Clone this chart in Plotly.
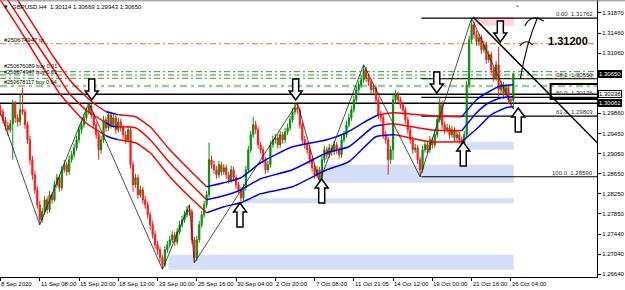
import plotly.graph_objects as go

# ---------------- data ----------------
x_tick_bars = [0, 16, 32, 48, 64, 80, 96, 112, 128, 144, 160, 176, 192, 208]
x_tick_labels = ["8 Sep 2020", "11 Sep 08:00", "15 Sep 20:00", "18 Sep 12:00", "23 Sep 00:00",
                 "25 Sep 16:00", "30 Sep 04:00", "2 Oct 20:00", "7 Oct 08:00", "11 Oct 21:05",
                 "14 Oct 12:00", "19 Oct 00:00", "21 Oct 16:00", "26 Oct 04:00"]
y_tick_vals = [1.31870, 1.31460, 1.31060, 1.29860, 1.29450, 1.29050, 1.28650,
               1.28250, 1.27850, 1.27440, 1.27040, 1.26640]

closes = [
1.2989,1.2973,1.2961,1.2953,1.2965,1.3005,1.2977,1.2969,1.2993,1.2989,
1.2963,1.2933,1.2893,1.2863,1.2833,1.2803,1.2773,1.2789,1.2813,1.2793,
1.2823,1.2813,1.2843,1.2857,1.2837,1.2873,1.2883,1.2869,1.2893,1.2903,
1.2917,1.2933,1.2953,1.2963,1.2977,1.2989,1.3001,1.2983,1.2963,1.2943,
1.2913,1.2933,1.2973,1.2957,1.2983,1.2963,1.2977,1.2953,1.2969,1.2957,
1.2943,1.2933,1.2953,1.2883,1.2843,1.2857,1.2823,1.2833,1.2813,1.2803,
1.2783,1.2763,1.2743,1.2723,1.2713,1.2697,1.2683,1.2713,1.2723,1.2733,
1.2743,1.2729,1.2749,1.2763,1.2773,1.2783,1.2793,1.2789,1.2733,1.2697,
1.2733,1.2763,1.2783,1.2803,1.2823,1.2893,1.2883,1.2873,1.2863,1.2883,
1.2869,1.2877,1.2863,1.2853,1.2873,1.2857,1.2843,1.2833,1.2817,1.2837,
1.2873,1.2913,1.2943,1.2963,1.2953,1.2923,1.2913,1.2893,1.2873,1.2883,
1.2923,1.2933,1.2937,1.2923,1.2943,1.2933,1.2949,1.2957,1.2973,1.2989,
1.2997,1.2993,1.2963,1.2933,1.2923,1.2913,1.2893,1.2877,1.2863,1.2873,
1.2857,1.2893,1.2913,1.2903,1.2917,1.2909,1.2923,1.2913,1.2903,1.2933,
1.2943,1.2963,1.2977,1.2993,1.3013,1.3033,1.3043,1.3053,1.3073,1.3057,
1.3049,1.3033,1.3037,1.3013,1.2983,1.2977,1.2943,1.2933,1.2893,1.2913,
1.3013,1.3023,1.3013,1.3003,1.2993,1.2973,1.2953,1.2933,1.2913,1.2917,
1.2893,1.2873,1.2913,1.2923,1.2913,1.2933,1.2923,1.2943,1.2973,1.3003,
1.2963,1.2953,1.2957,1.2943,1.2953,1.2937,1.2943,1.2933,1.2923,1.2943,
1.3043,1.3133,1.3163,1.3143,1.3129,1.3137,1.3113,1.3123,1.3093,1.3103,
1.3073,1.3057,1.3083,1.3033,1.3043,1.3023,1.3037,1.3013,1.3011,1.30650]

opens = [
1.2993,1.2989,1.2973,1.2961,1.2953,1.2965,1.3005,1.2977,1.2969,1.2993,
1.2989,1.2963,1.2933,1.2893,1.2863,1.2833,1.2803,1.2773,1.2789,1.2813,
1.2793,1.2823,1.2813,1.2843,1.2857,1.2837,1.2873,1.2883,1.2869,1.2893,
1.2903,1.2917,1.2933,1.2953,1.2963,1.2977,1.2989,1.3001,1.2983,1.2963,
1.2943,1.2913,1.2933,1.2973,1.2957,1.2983,1.2963,1.2977,1.2953,1.2969,
1.2957,1.2943,1.2933,1.2953,1.2883,1.2843,1.2857,1.2823,1.2833,1.2813,
1.2803,1.2783,1.2763,1.2743,1.2723,1.2713,1.2697,1.2683,1.2713,1.2723,
1.2733,1.2743,1.2729,1.2749,1.2763,1.2773,1.2783,1.2793,1.2789,1.2733,
1.2697,1.2733,1.2763,1.2783,1.2803,1.2823,1.2893,1.2883,1.2873,1.2863,
1.2883,1.2869,1.2877,1.2863,1.2853,1.2873,1.2857,1.2843,1.2833,1.2817,
1.2837,1.2873,1.2913,1.2943,1.2963,1.2953,1.2923,1.2913,1.2893,1.2873,
1.2883,1.2923,1.2933,1.2937,1.2923,1.2943,1.2933,1.2949,1.2957,1.2973,
1.2989,1.2997,1.2993,1.2963,1.2933,1.2923,1.2913,1.2893,1.2877,1.2863,
1.2873,1.2857,1.2893,1.2913,1.2903,1.2917,1.2909,1.2923,1.2913,1.2903,
1.2933,1.2943,1.2963,1.2977,1.2993,1.3013,1.3033,1.3043,1.3053,1.3073,
1.3057,1.3049,1.3033,1.3037,1.3013,1.2983,1.2977,1.2943,1.2933,1.2893,
1.2913,1.3013,1.3023,1.3013,1.3003,1.2993,1.2973,1.2953,1.2933,1.2913,
1.2917,1.2893,1.2873,1.2913,1.2923,1.2913,1.2933,1.2923,1.2943,1.2973,
1.3003,1.2963,1.2953,1.2957,1.2943,1.2953,1.2937,1.2943,1.2933,1.2923,
1.2943,1.3043,1.3133,1.3163,1.3143,1.3129,1.3137,1.3113,1.3123,1.3093,
1.3103,1.3073,1.3057,1.3083,1.3033,1.3043,1.3023,1.3037,1.3013,1.30114]

highs = [
1.3003,1.2995,1.2979,1.2969,1.2973,1.3013,1.3011,1.2985,1.3023,1.3037,
1.2995,1.2969,1.2941,1.2901,1.2871,1.2841,1.2811,1.2797,1.2821,1.2819,
1.2831,1.2829,1.2851,1.2865,1.2863,1.2881,1.2893,1.2889,1.2901,1.2911,
1.2925,1.2941,1.2961,1.2971,1.2985,1.2997,1.3007,1.3005,1.2989,1.2969,
1.2949,1.2941,1.2981,1.2979,1.2991,1.2989,1.2985,1.2983,1.2977,1.2975,
1.2963,1.2951,1.2961,1.2959,1.2889,1.2865,1.2863,1.2841,1.2839,1.2821,
1.2809,1.2789,1.2771,1.2751,1.2731,1.2719,1.2703,1.2721,1.2731,1.2741,
1.2751,1.2749,1.2757,1.2771,1.2781,1.2791,1.2801,1.2803,1.2795,1.2739,
1.2741,1.2771,1.2791,1.2811,1.2831,1.2927,1.2901,1.2891,1.2881,1.2891,
1.2889,1.2885,1.2883,1.2869,1.2881,1.2879,1.2863,1.2849,1.2839,1.2845,
1.2881,1.2921,1.2951,1.2979,1.2971,1.2959,1.2929,1.2919,1.2899,1.2891,
1.2931,1.2941,1.2945,1.2943,1.2951,1.2949,1.2957,1.2965,1.2981,1.2997,
1.3005,1.3007,1.2999,1.2969,1.2941,1.2929,1.2919,1.2899,1.2883,1.2881,
1.2879,1.2901,1.2921,1.2919,1.2925,1.2923,1.2931,1.2929,1.2919,1.2941,
1.2951,1.2971,1.2985,1.3001,1.3021,1.3041,1.3051,1.3063,1.3083,1.3079,
1.3065,1.3055,1.3045,1.3043,1.3019,1.2991,1.2983,1.2951,1.2939,1.2921,
1.3027,1.3033,1.3029,1.3019,1.3009,1.2999,1.2979,1.2959,1.2939,1.2925,
1.2923,1.2899,1.2921,1.2931,1.2929,1.2941,1.2939,1.2951,1.2981,1.3019,
1.3011,1.2969,1.2965,1.2963,1.2961,1.2959,1.2951,1.2949,1.2939,1.2951,
1.3051,1.3141,1.3176,1.3169,1.3151,1.3145,1.3143,1.3131,1.3129,1.3111,
1.3109,1.3079,1.3091,1.3119,1.3051,1.3049,1.3045,1.3043,1.3019,1.30669]

lows = [
1.2981,1.2965,1.2951,1.2941,1.2947,1.2893,1.2967,1.2959,1.2961,1.2983,
1.2955,1.2925,1.2883,1.2853,1.2825,1.2795,1.2763,1.2767,1.2783,1.2785,
1.2787,1.2805,1.2809,1.2837,1.2829,1.2831,1.2867,1.2861,1.2863,1.2887,
1.2897,1.2911,1.2927,1.2945,1.2957,1.2971,1.2983,1.2975,1.2955,1.2935,
1.2893,1.2905,1.2927,1.2949,1.2951,1.2955,1.2957,1.2945,1.2947,1.2949,
1.2935,1.2925,1.2927,1.2875,1.2829,1.2837,1.2815,1.2817,1.2805,1.2795,
1.2775,1.2753,1.2735,1.2715,1.2703,1.2689,1.2674,1.2679,1.2707,1.2717,
1.2727,1.2721,1.2723,1.2743,1.2757,1.2767,1.2777,1.2781,1.2725,1.2687,
1.2691,1.2727,1.2757,1.2777,1.2797,1.2817,1.2875,1.2865,1.2855,1.2857,
1.2861,1.2863,1.2855,1.2845,1.2847,1.2849,1.2835,1.2825,1.2803,1.2811,
1.2831,1.2867,1.2907,1.2937,1.2945,1.2915,1.2905,1.2885,1.2865,1.2867,
1.2877,1.2917,1.2925,1.2915,1.2917,1.2925,1.2927,1.2943,1.2951,1.2967,
1.2983,1.2985,1.2955,1.2925,1.2915,1.2905,1.2885,1.2869,1.2855,1.2857,
1.2849,1.2851,1.2887,1.2895,1.2897,1.2901,1.2903,1.2905,1.2895,1.2897,
1.2927,1.2937,1.2957,1.2971,1.2987,1.3007,1.3027,1.3037,1.3047,1.3049,
1.3041,1.3025,1.3027,1.3005,1.2975,1.2969,1.2935,1.2925,1.2863,1.2885,
1.2893,1.3005,1.3005,1.2995,1.2985,1.2965,1.2945,1.2925,1.2905,1.2907,
1.2885,1.2859,1.2867,1.2907,1.2905,1.2907,1.2915,1.2917,1.2937,1.2967,
1.2955,1.2945,1.2947,1.2935,1.2937,1.2929,1.2931,1.2925,1.2913,1.2917,
1.2937,1.3037,1.3125,1.3135,1.3121,1.3121,1.3105,1.3107,1.3085,1.3087,
1.3065,1.3049,1.3051,1.3019,1.3025,1.3015,1.3017,1.3005,1.2999,1.29943]

# moving-average envelope (three lines), sampled vertices (bar index, price)
upper_bars = [0,7,15,22,29,33,38,43,45,48,55,61,69,77,84,91,98,106,119,133,141,150,154,160,175,188,194,199,203,209]
upper_vals = [1.3266,1.3212,1.3150,1.3096,1.3048,1.3028,1.3006,1.2989,1.2987,1.2983,1.2979,1.2959,1.2913,1.2873,
              1.2839,1.2847,1.2857,1.2887,1.2919,1.2933,1.2947,1.2973,1.2983,1.2987,1.2981,1.2979,1.3013,1.3029,
              1.3039,1.3043]
upper_up = [(43, 48), (84, 154), (188, 999)]

mid_bars = [0,3,11,19,28,35,43,45,48,55,61,69,77,84,91,98,106,119,133,142,152,156,160,175,188,194,199,204,209]
mid_vals = [1.3234,1.3212,1.3152,1.3094,1.3026,1.2992,1.2967,1.2961,1.2959,1.2957,1.2933,1.2887,1.2847,1.2813,
            1.2821,1.2833,1.2855,1.2873,1.2907,1.2919,1.2959,1.2963,1.2965,1.2953,1.2951,1.2987,1.3007,1.3017,1.3019]
mid_up = [(43, 48), (84, 156), (188, 999)]

lower_bars = [0,8,15,24,30,35,43,45,48,55,61,69,77,84,91,98,106,119,133,142,153,161,175,188,195,200,206,209]
lower_vals = [1.3212,1.3152,1.3096,1.3026,1.2992,1.2966,1.2941,1.2937,1.2933,1.2927,1.2907,1.2859,1.2819,1.2787,
              1.2799,1.2807,1.2825,1.2839,1.2873,1.2889,1.2939,1.2943,1.2929,1.2929,1.2959,1.2983,1.2997,1.2999]
lower_up = [(43, 48), (84, 161), (188, 999)]

# zigzag swing points
zz_bars = [0, 16, 36, 66, 77, 79, 121, 130, 148, 171, 192, 209]
zz_vals = [1.2987, 1.2763, 1.3007, 1.2674, 1.2803, 1.2687, 1.3007, 1.2849, 1.3083, 1.2859, 1.3176, 1.29943]

# Fibonacci retracement
fib_start_bar = 171.5
fib_levels = ["0.00", "38.2", "50.0", "61.8", "100.0"]
fib_prices = [1.31762, 1.30550, 1.30176, 1.29803, 1.28590]

# order lines
tp_price = 1.3125
tp_label = "#250674947 tp"
buy_prices = [1.30691, 1.30625, 1.30559]
buy_labels = ["#250676089 buy 0.01", "#250674947 buy 0.01", ""]
buy2_price = 1.30405
buy2_label = "#250678117 buy 0.04"

# horizontal black lines
hline_prices = [1.30238, 1.30061]
current_price = 1.30650

# zones: (bar_start, bar_end, price_low, price_high)
blue_zones = [(68.4, 209.2, 1.2673, 1.2703),
              (98.4, 209.2, 1.2806, 1.2816),
              (130.9, 209.2, 1.2847, 1.2883),
              (190.1, 209.2, 1.2913, 1.2929)]
pink_zone = (193.0, 209.2, 1.3161, 1.3179)

# trend line & box
trend_pts = [(192.6, 1.31784), (243.5, 1.29255)]
box = (224.2, 243.5, 1.30145, 1.30445)

# hollow arrows (tip bar, tip price)
down_arrows = [(37.2, 1.30125), (120.3, 1.30125), (177.8, 1.30265), (203.7, 1.31284)]
up_arrows = [(97.6, 1.28066), (130.9, 1.28545), (188.6, 1.29285), (211.0, 1.29965)]

big_text = "1.31200"
title_text = "GBPUSD,H4  1.30114 1.30669 1.29943 1.30650"

X_RANGE = [-0.2, 243.1]
Y_RANGE = [1.26586, 1.32124]
FONT = "Liberation Sans, Arial, sans-serif"

fig = go.Figure()

# zones (background)
for b0, b1, p0, p1 in blue_zones:
    fig.add_shape(type="rect", xref="x", yref="y", x0=b0, x1=b1, y0=p0, y1=p1,
                  fillcolor="#d6dff8", line_width=0, layer="below")
fig.add_shape(type="rect", xref="x", yref="y", x0=pink_zone[0], x1=pink_zone[1],
              y0=pink_zone[2], y1=pink_zone[3], fillcolor="#ffd3da", line_width=0, layer="below")

# order lines
fig.add_shape(type="line", xref="paper", yref="y", x0=0, x1=1, y0=tp_price, y1=tp_price,
              line=dict(color="#ff6a1a", width=1, dash="6px,3px,2px,3px"), layer="below")
for p in buy_prices:
    fig.add_shape(type="line", xref="paper", yref="y", x0=0, x1=1, y0=p, y1=p,
                  line=dict(color="#2f9a2f", width=1, dash="6px,3px,2px,3px"), layer="below")
fig.add_shape(type="line", xref="paper", yref="y", x0=0, x1=1, y0=buy2_price, y1=buy2_price,
              line=dict(color="#94cf94", width=2.5, dash="7px,4px,3px,4px"), layer="below")
for p in hline_prices:
    fig.add_shape(type="line", xref="paper", yref="y", x0=0, x1=1, y0=p, y1=p,
                  line=dict(color="black", width=1.5), layer="below")

# fib lines
for p in fib_prices:
    fig.add_shape(type="line", xref="x", yref="y", x0=fib_start_bar, x1=X_RANGE[1], y0=p, y1=p,
                  line=dict(color="black", width=1.2), layer="below")


def add_ma(bars, vals, up_ranges):
    def is_up(b):
        return any(a <= b < e for a, e in up_ranges)
    runs = []
    cur = None
    for k in range(len(bars) - 1):
        col = "#0000ff" if is_up(bars[k]) else "#ff0000"
        if cur is None or cur[0] != col:
            cur = [col, [bars[k]], [vals[k]]]
            runs.append(cur)
        cur[1].append(bars[k + 1])
        cur[2].append(vals[k + 1])
    for col, xs, ys in runs:
        fig.add_trace(go.Scatter(x=xs, y=ys, mode="lines", hoverinfo="skip",
                                 line=dict(color=col, width=1.5, shape="spline", smoothing=0.5)))


add_ma(upper_bars, upper_vals, upper_up)
add_ma(mid_bars, mid_vals, mid_up)
add_ma(lower_bars, lower_vals, lower_up)

# candles
fig.add_trace(go.Candlestick(
    x=list(range(len(closes))), open=opens, high=highs, low=lows, close=closes,
    increasing=dict(line=dict(color="#0a8f0a", width=1), fillcolor="#0a8f0a"),
    decreasing=dict(line=dict(color="#ff1a1a", width=1), fillcolor="#ff1a1a"),
    whiskerwidth=0, hoverinfo="skip"))

# zigzag
fig.add_trace(go.Scatter(x=zz_bars, y=zz_vals, mode="lines", hoverinfo="skip",
                         line=dict(color="#222222", width=0.8)))

# trend line and box
fig.add_shape(type="line", xref="x", yref="y", x0=trend_pts[0][0], y0=trend_pts[0][1],
              x1=trend_pts[1][0], y1=trend_pts[1][1], line=dict(color="black", width=1.5))
fig.add_shape(type="rect", xref="x", yref="y", x0=box[0], x1=box[1], y0=box[2], y1=box[3],
              line=dict(color="black", width=2), fillcolor="rgba(0,0,0,0)")

# hand-drawn arrow
fig.add_shape(type="path", xref="x", yref="y",
              path="M211.85,1.30545 Q214.1,1.31224 218.96,1.31784",
              line=dict(color="black", width=1.1))
fig.add_shape(type="path", xref="x", yref="y",
              path="M213.7,1.31604 Q216.1,1.31864 221.4,1.31704",
              line=dict(color="black", width=1.1))
fig.add_shape(type="path", xref="x", yref="y",
              path="M211.65,1.31204 Q214.1,1.31364 216.9,1.31224",
              line=dict(color="black", width=1.1))

# hollow arrows
DOWN = "M0,0 L-6.5,9 L-3,9 L-3,21 L3,21 L3,9 L6.5,9 Z"
UP = "M0,0 L-6.5,-9 L-3,-9 L-3,-24 L3,-24 L3,-9 L6.5,-9 Z"
for b, p in down_arrows:
    fig.add_shape(type="path", xref="x", yref="y", xsizemode="pixel", ysizemode="pixel",
                  xanchor=b, yanchor=p, path=DOWN, fillcolor="white",
                  line=dict(color="black", width=1.5))
for b, p in up_arrows:
    fig.add_shape(type="path", xref="x", yref="y", xsizemode="pixel", ysizemode="pixel",
                  xanchor=b, yanchor=p, path=UP, fillcolor="white",
                  line=dict(color="black", width=1.5))

# frame top line
fig.add_shape(type="line", xref="paper", yref="paper", x0=0, x1=1.05, y0=0.997, y1=0.997,
              line=dict(color="#808080", width=1))

ann = []
small = dict(family=FONT, size=6, color="black")
tiny = dict(family=FONT, size=5.5, color="black")

# order labels
ann.append(dict(x=0.004, y=tp_price, xref="paper", yref="y", text=tp_label, showarrow=False,
                xanchor="left", yanchor="bottom", font=small, yshift=-1))
for p, t, sh in zip(buy_prices, buy_labels, [1, -2, 0]):
    if t:
        ann.append(dict(x=0.004, y=p, xref="paper", yref="y", text=t, showarrow=False,
                        xanchor="left", yanchor="bottom", font=tiny, yshift=sh))
ann.append(dict(x=0.004, y=buy2_price, xref="paper", yref="y", text=buy2_label, showarrow=False,
                xanchor="left", yanchor="bottom", font=tiny, yshift=-1))

# fib labels
for lvl, p in zip(fib_levels, fib_prices):
    ann.append(dict(x=X_RANGE[1], y=p, xref="x", yref="y", text=f"{lvl}  {p:.5f}", showarrow=False,
                    xanchor="right", yanchor="bottom", xshift=-2, yshift=-1,
                    font=dict(family=FONT, size=6, color="#333333")))

# big text
ann.append(dict(x=222.2, y=1.31304, xref="x", yref="y", text=f"<b>{big_text}</b>", showarrow=False,
                xanchor="left", yanchor="middle", font=dict(family=FONT, size=11, color="black")))

# title
ann.append(dict(x=2 / 599, y=1, xref="paper", yref="paper", text="▾", showarrow=False,
                xanchor="left", yanchor="top", yshift=-1, font=dict(family=FONT, size=7, color="black")))
ann.append(dict(x=10 / 599, y=1, xref="paper", yref="paper", text=title_text, showarrow=False,
                xanchor="left", yanchor="top", yshift=-2, font=small))
ann.append(dict(x=519 / 599, y=1, xref="paper", yref="paper", text="▼", showarrow=False,
                xanchor="center", yanchor="top", yshift=-1, font=dict(family=FONT, size=5, color="#a0a0a0")))

# x labels
for b, t in zip(x_tick_bars, x_tick_labels):
    ann.append(dict(x=b, y=0, xref="x", yref="paper", text=t, showarrow=False,
                    xanchor="left", yanchor="top", xshift=-1, yshift=-2, font=small))

# boxed price labels on the axis
for p, bg, fg in [(current_price, "black", "white"), (hline_prices[0], "white", "black"),
                  (hline_prices[1], "black", "white")]:
    ann.append(dict(x=1, y=p, xref="paper", yref="y", text=f"{p:.5f}", showarrow=False,
                    xanchor="left", yanchor="middle", xshift=1, bgcolor=bg, bordercolor="black",
                    borderwidth=1, borderpad=0, font=dict(family=FONT, size=6, color=fg)))

fig.update_layout(
    width=625, height=290,
    margin=dict(l=0, r=26, t=0, b=13),
    paper_bgcolor="white", plot_bgcolor="white",
    showlegend=False, hovermode=False,
    annotations=ann,
    xaxis=dict(range=X_RANGE, showgrid=False, zeroline=False, rangeslider=dict(visible=False),
               tickmode="array", tickvals=x_tick_bars, showticklabels=False,
               ticks="outside", ticklen=3, tickcolor="black",
               showline=True, linecolor="black", linewidth=1),
    yaxis=dict(range=Y_RANGE, side="right", showgrid=False, zeroline=False,
               tickmode="array", tickvals=y_tick_vals, ticktext=[f"{v:.5f}" for v in y_tick_vals],
               ticks="outside", ticklen=3, tickcolor="black",
               tickfont=dict(family=FONT, size=6, color="black"),
               showline=True, linecolor="black", linewidth=1),
)

fig.write_html("out.html")
